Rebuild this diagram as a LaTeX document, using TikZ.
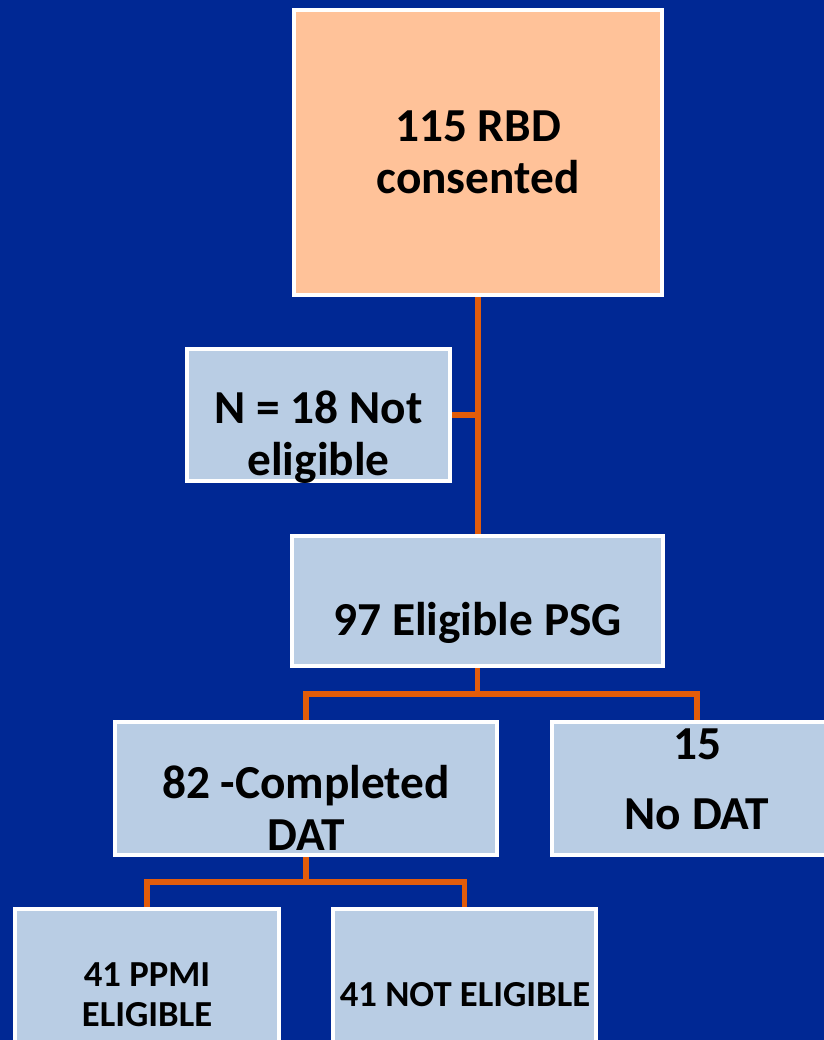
\documentclass[tikz,border=0pt]{standalone}
\usepackage{fontspec}
\setmainfont{Carlito}
\usetikzlibrary{calc, positioning}
\definecolor{slideblue}{RGB}{0,40,148}
\definecolor{boxblue}{RGB}{185,205,228}
\definecolor{peach}{RGB}{255,194,153}
\definecolor{linkorange}{RGB}{226,92,10}
\tikzstyle{block} = [rectangle, draw=white, line width=3pt, fill=boxblue, inner sep=0pt]
\tikzstyle{caption} = [align=center, inner sep=0pt, text=black, font=\bfseries\fontsize{35.5}{39}\selectfont]
\tikzstyle{smallcaption} = [align=center, inner sep=0pt, text=black, font=\bfseries\fontsize{27.5}{30}\selectfont]
\tikzstyle{link} = [linkorange, line width=4pt]

\begin{document}
\begin{tikzpicture}[x=0.75pt, y=-0.75pt]
		\useasboundingbox (0,0) rectangle (824,1040);
		\fill [slideblue] (0,0) rectangle (824,1040);
		% boxes
		\node (Consented) [block, fill=peach, minimum width=276pt, minimum height=213.75pt] at (478,152.5) {};
		\node (NotEligible) [block, minimum width=197.25pt, minimum height=99pt] at (318.5,415) {};
		\node (EligiblePSG) [block, minimum width=278.25pt, minimum height=97.5pt] at (477.5,601) {};
		\node (CompletedDAT) [block, minimum width=286.5pt, minimum height=99.75pt] at (306,788.5) {};
		\node (NoDAT) [block, minimum width=217.5pt, minimum height=99.75pt] at (697,788.5) {};
		\node (PPMIEligible) [block, minimum width=198pt, minimum height=105.75pt] at (147,979.5) {};
		\node (NotPPMI) [block, minimum width=197.25pt, minimum height=105.75pt] at (464.5,979.5) {};
		% texts
		\node (ConsentedText) [caption] at (478,152) {115 RBD\\consented};
		\node (NotEligibleText) [caption] at (318.5,437) {N = 18 Not\\eligible};
		\node (EligiblePSGText) [caption] at (477.5,623) {97 Eligible PSG};
		\node (CompletedDATText) [caption] at (306,808) {82 -Completed\\DAT};
		\node (NoDATText) [caption] at (697,779) {15\\[13.5pt]No DAT};
		\node (PPMIEligibleText) [smallcaption] at (147,995) {41 PPMI\\ELIGIBLE};
		\node (NotPPMIText) [smallcaption] at (465,995) {41 NOT ELIGIBLE};
		% connectors
		\draw [link] (Consented.south) -- (Consented.south |- EligiblePSG.north);
		\draw [link] (NotEligible.east) -- (NotEligible.east -| Consented.south);
		\draw [link] (EligiblePSG.south) -- ++(0,26) coordinate (PSGFork) -| (CompletedDAT.north);
		\draw [link] (PSGFork) -| (NoDAT.north);
		\draw [link] (CompletedDAT.south) -- ++(0,25) coordinate (DATFork) -| (PPMIEligible.north);
		\draw [link] (DATFork) -| (NotPPMI.north);
\end{tikzpicture}
\end{document}
